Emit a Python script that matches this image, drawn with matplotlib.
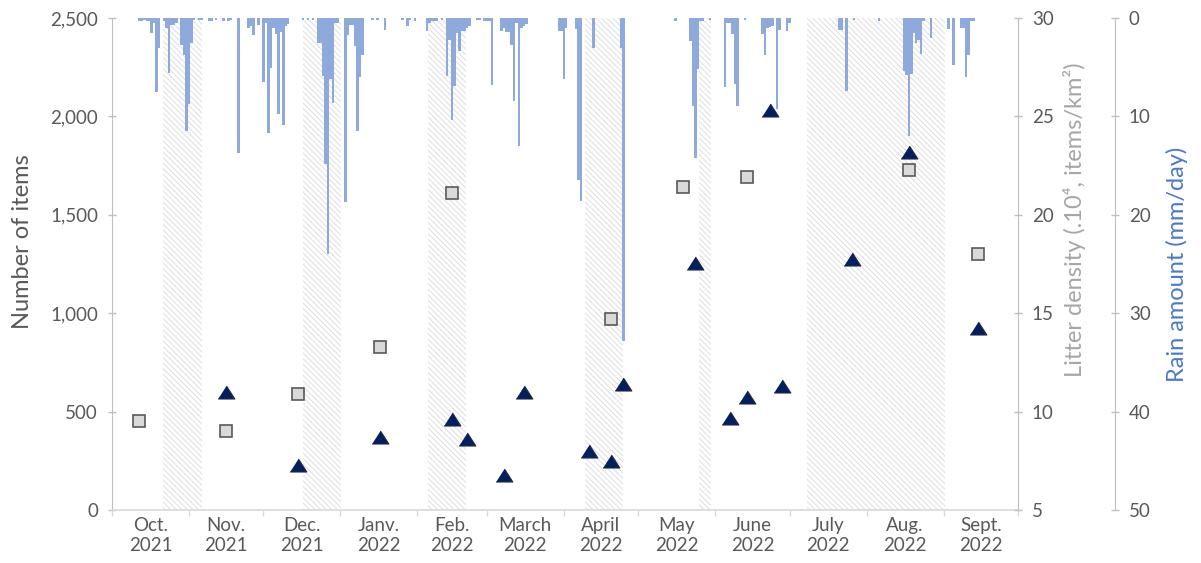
import matplotlib
matplotlib.use("Agg")
import matplotlib.pyplot as plt
import matplotlib.dates as mdates
from matplotlib.ticker import FuncFormatter, FixedLocator, NullFormatter
import pandas as pd
import numpy as np

plt.rcParams['font.family'] = ['Lato', 'DejaVu Sans']
plt.rcParams['font.weight'] = 'normal'
plt.rcParams['hatch.linewidth'] = 0.6

# ---------------- data ----------------
month_labels = ["Oct.\n2021", "Nov.\n2021", "Dec.\n2021", "Janv.\n2022", "Feb.\n2022", "March\n2022",
                "April\n2022", "May\n2022", "June\n2022", "July\n2022", "Aug.\n2022", "Sept.\n2022"]

# hatched periods
period_start = ["2021-10-21 12:00", "2021-12-17", "2022-02-05 08:00", "2022-04-09 12:00",
                "2022-05-25 12:00", "2022-07-08"]
period_end = ["2021-11-06 06:00", "2022-01-01 06:00", "2022-02-20 12:00", "2022-04-24 22:00",
              "2022-05-30 06:00", "2022-09-01 12:00"]

# daily rain (mm/day)
rain_dates = [
    "2021-10-12", "2021-10-13", "2021-10-14", "2021-10-15", "2021-10-16", "2021-10-17", "2021-10-18",
    "2021-10-19", "2021-10-20", "2021-10-22", "2021-10-23", "2021-10-24", "2021-10-25", "2021-10-26",
    "2021-10-27", "2021-10-29", "2021-10-30", "2021-10-31", "2021-11-01", "2021-11-02", "2021-11-03",
    "2021-11-05", "2021-11-06", "2021-11-09", "2021-11-10", "2021-11-12", "2021-11-15", "2021-11-17",
    "2021-11-18", "2021-11-21", "2021-11-25", "2021-11-26", "2021-11-27", "2021-11-29", "2021-12-01",
    "2021-12-02", "2021-12-03", "2021-12-04", "2021-12-05", "2021-12-06", "2021-12-07", "2021-12-08",
    "2021-12-09", "2021-12-10", "2021-12-11", "2021-12-17", "2021-12-19", "2021-12-21", "2021-12-23",
    "2021-12-24", "2021-12-25", "2021-12-26", "2021-12-27", "2021-12-28", "2021-12-29", "2021-12-30",
    "2021-12-31", "2022-01-03", "2022-01-04", "2022-01-05", "2022-01-06", "2022-01-07", "2022-01-08",
    "2022-01-09", "2022-01-10", "2022-01-14", "2022-01-16", "2022-01-19", "2022-01-26", "2022-01-28",
    "2022-01-29", "2022-01-31", "2022-02-05", "2022-02-06", "2022-02-07", "2022-02-08", "2022-02-09",
    "2022-02-11", "2022-02-13", "2022-02-14", "2022-02-15", "2022-02-16", "2022-02-17", "2022-02-18",
    "2022-02-19", "2022-02-20", "2022-02-21", "2022-02-22", "2022-02-25", "2022-02-26", "2022-02-28",
    "2022-03-01", "2022-03-02", "2022-03-03", "2022-03-07", "2022-03-08", "2022-03-09", "2022-03-10",
    "2022-03-11", "2022-03-12", "2022-03-13", "2022-03-14", "2022-03-15", "2022-03-16", "2022-03-17",
    "2022-03-30", "2022-03-31", "2022-04-01", "2022-04-02", "2022-04-06", "2022-04-07", "2022-04-08",
    "2022-04-13", "2022-04-24", "2022-04-25", "2022-05-16", "2022-05-22", "2022-05-23", "2022-05-24",
    "2022-05-25", "2022-05-26", "2022-05-27", "2022-05-30", "2022-06-05", "2022-06-06", "2022-06-07",
    "2022-06-08", "2022-06-09", "2022-06-10", "2022-06-13", "2022-06-20", "2022-06-21", "2022-06-22",
    "2022-06-23", "2022-06-24", "2022-06-26", "2022-06-27", "2022-06-30", "2022-07-01", "2022-07-21",
    "2022-07-22", "2022-07-24", "2022-07-27", "2022-08-06", "2022-08-16", "2022-08-17", "2022-08-18",
    "2022-08-19", "2022-08-20", "2022-08-21", "2022-08-22", "2022-08-23", "2022-08-24", "2022-08-27",
    "2022-09-03", "2022-09-05", "2022-09-08", "2022-09-09", "2022-09-10", "2022-09-11", "2022-09-12",
    "2022-09-13"]
rain_mm = [
    0.3, 0.3, 0.2, 0.3, 0.3, 1.5, 0.5,
    7.5, 3.0, 0.3, 1.0, 5.6, 0.7, 0.7,
    0.5, 2.7, 3.8, 11.5, 8.7, 2.5, 0.2,
    0.2, 0.2, 0.3, 0.3, 0.2, 0.3, 0.3,
    0.2, 13.7, 1.0, 0.8, 1.7, 0.7, 6.5,
    0.5, 11.7, 5.1, 1.0, 1.6, 9.8, 1.4,
    10.9, 0.8, 0.6, 0.2, 0.2, 0.2, 2.5,
    2.5, 5.9, 14.8, 24.0, 6.2, 8.6, 0.5,
    0.5, 18.7, 1.7, 0.7, 0.7, 2.8, 11.5,
    6.0, 3.8, 0.2, 0.2, 1.2, 0.2, 0.8,
    0.2, 0.3, 1.3, 0.5, 0.3, 0.3, 0.3,
    0.2, 5.9, 2.2, 10.4, 6.9, 1.5, 3.4,
    1.3, 1.3, 1.0, 0.8, 0.2, 0.2, 0.3,
    0.3, 0.3, 6.8, 1.3, 1.0, 1.4, 1.4,
    2.7, 8.4, 0.5, 13.0, 1.0, 0.8, 0.6,
    1.3, 1.3, 6.2, 1.0, 1.1, 16.5, 18.6,
    3.0, 3.0, 32.8, 0.3, 2.3, 8.9, 14.2,
    5.2, 0.3, 0.3, 0.2, 7.0, 0.5, 0.5,
    1.6, 6.7, 8.9, 0.2, 1.6, 3.8, 1.0,
    0.9, 0.8, 9.2, 1.2, 1.3, 0.5, 1.2,
    1.2, 7.4, 0.2, 0.3, 5.4, 5.8, 12.0,
    5.7, 1.5, 2.5, 2.2, 3.7, 0.3, 2.0,
    1.1, 4.8, 1.0, 1.0, 6.0, 3.8, 0.3,
    0.3]

# litter density (squares, 10^4 items/km2)
density_dates = ["2021-10-12", "2021-11-16", "2021-12-15", "2022-01-17", "2022-02-15",
                 "2022-04-20", "2022-05-19", "2022-06-14", "2022-08-18", "2022-09-15"]
density_vals = [9.5, 9.0, 10.9, 13.3, 21.1, 14.7, 21.4, 21.9, 22.3, 18.0]

# number of items (triangles)
items_dates = ["2021-11-16", "2021-12-15", "2022-01-17", "2022-02-15", "2022-02-21", "2022-03-08",
               "2022-03-16", "2022-04-11", "2022-04-20", "2022-04-25", "2022-05-24", "2022-06-07",
               "2022-06-14", "2022-06-23", "2022-06-28", "2022-07-26", "2022-08-18", "2022-09-15"]
items_vals = [600, 230, 370, 460, 360, 180, 600, 300, 250, 640, 1255, 470, 575, 2030, 630, 1275,
              1820, 925]

# ---------------- plot ----------------
GRID = '#d9d9d9'
SPINE = '#bfbfbf'
TXT = '#595959'
FS = 13.5
LFS = 17

fig = plt.figure(figsize=(12.01, 5.63), dpi=100)
ax = fig.add_axes([112/1201, 1-510/563, 906/1201, 492/563])
ax_rain = ax.twinx()
ax_dens = ax.twinx()

ax_rain.set_zorder(0)
ax.set_zorder(1)
ax_dens.set_zorder(2)
ax.patch.set_visible(False)
ax_dens.patch.set_visible(False)

# x axis
x0 = pd.Timestamp("2021-10-01")
x1 = pd.Timestamp("2022-10-01")
ax.set_xlim(x0, x1)

# hatched periods
for s, e in zip(period_start, period_end):
    ax_rain.axvspan(pd.Timestamp(s), pd.Timestamp(e), facecolor='white', edgecolor='#d9d9d9',
                    hatch='\\\\\\\\\\\\', linewidth=0, zorder=0)

# rain bars
rd = pd.to_datetime(rain_dates)
ax_rain.bar(rd, rain_mm, width=1.0, color='#8eaadc', linewidth=0, zorder=2, align='center')
ax_rain.set_ylim(50, 0)

# markers
ax.plot(pd.to_datetime(items_dates), items_vals, linestyle='none',
        marker=[(-1, -0.78), (1, -0.78), (0, 0.78)], markersize=12,
        markerfacecolor='#002060', markeredgecolor='#262640', markeredgewidth=0.8, zorder=5)
ax_dens.plot(pd.to_datetime(density_dates), density_vals, linestyle='none', marker='s',
             markersize=8.2, markerfacecolor='#d9d9d9', markeredgecolor='#595959',
             markeredgewidth=1.2, zorder=5)

ax.set_ylim(0, 2500)
ax_dens.set_ylim(5, 30)

# month ticks
month_starts = pd.date_range("2021-10-01", "2022-10-01", freq='MS')
mids = [month_starts[i] + (month_starts[i+1] - month_starts[i]) / 2 for i in range(12)]
ax.xaxis.set_major_locator(FixedLocator(mdates.date2num(month_starts)))
ax.xaxis.set_major_formatter(NullFormatter())
ax.set_xticks(mdates.date2num(mids), minor=True)
ax.set_xticklabels(month_labels, minor=True, fontsize=FS, color=TXT, linespacing=1.2)
ax.tick_params(axis='x', which='major', direction='out', length=4.5, width=1, color=GRID)
ax.tick_params(axis='x', which='minor', length=0, pad=5)

# y axes
ax.set_yticks([0, 500, 1000, 1500, 2000, 2500])
ax.yaxis.set_major_formatter(FuncFormatter(lambda v, p: f"{v:,.0f}"))
ax.tick_params(axis='y', direction='inout', length=6, width=1, color=SPINE, labelsize=FS,
               labelcolor=TXT, pad=7)

ax_dens.set_yticks([5, 10, 15, 20, 25, 30])
ax_dens.tick_params(axis='y', direction='inout', length=6, width=1, color=SPINE, labelsize=FS,
                    labelcolor=TXT, pad=7)

ax_rain.spines['right'].set_position(('axes', (1115-112)/906))
ax_rain.set_yticks([0, 10, 20, 30, 40, 50])
ax_rain.tick_params(axis='y', direction='inout', length=6, width=1, color=SPINE, labelsize=FS,
                    labelcolor=TXT, pad=7)
ax_rain.tick_params(axis='x', which='both', length=0, labelbottom=False)
ax_dens.tick_params(axis='x', which='both', length=0, labelbottom=False)

# spines
for a in (ax, ax_rain, ax_dens):
    for sp in a.spines.values():
        sp.set_visible(False)
ax.spines['left'].set_visible(True)
ax.spines['left'].set_color(SPINE)
ax.spines['bottom'].set_visible(True)
ax.spines['bottom'].set_color(GRID)
ax.spines['bottom'].set_linewidth(1.2)
ax_dens.spines['right'].set_visible(True)
ax_dens.spines['right'].set_color(SPINE)
ax_rain.spines['right'].set_visible(True)
ax_rain.spines['right'].set_color(SPINE)

# labels
ax.set_ylabel("Number of items", fontsize=LFS, color=TXT)
ax.yaxis.set_label_coords(-0.087, 0.545)
ax_dens.set_ylabel("Litter density (.10⁴, items/km²)", fontsize=LFS, color='#a6a6a6')
ax_dens.yaxis.set_label_coords(1.05, 0.59)
ax_rain.set_ylabel("Rain amount (mm/day)", fontsize=LFS, color='#4a78c8')
ax_rain.yaxis.set_label_coords(1.163, 0.5)

fig.savefig("out.png", dpi=100, facecolor='white')
